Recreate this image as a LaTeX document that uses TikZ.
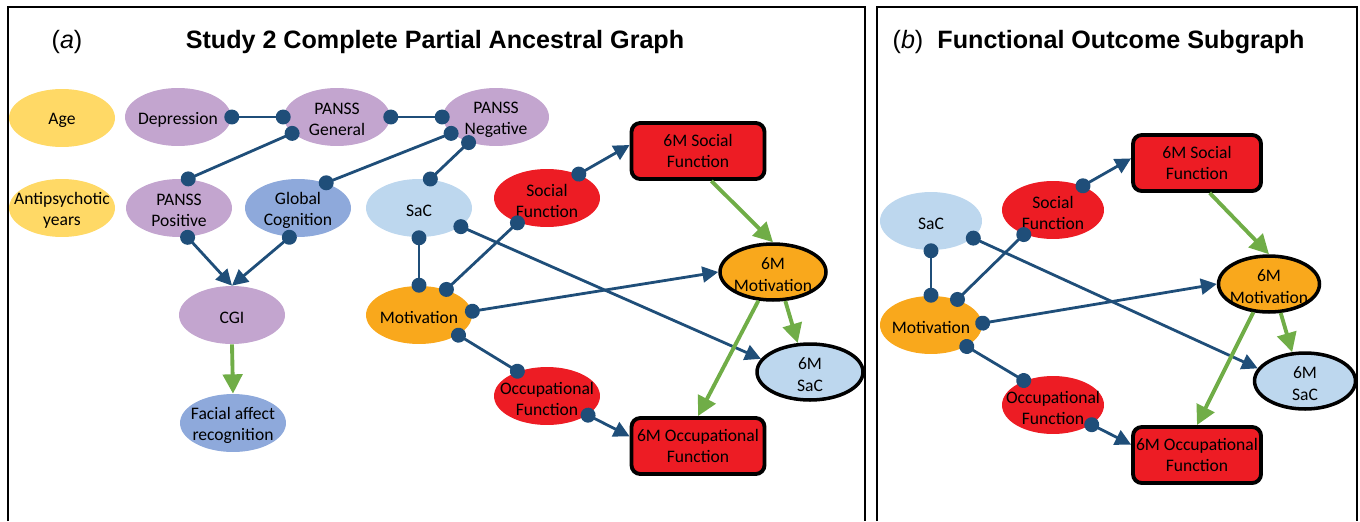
\documentclass[tikz,border=0pt]{standalone}
\usepackage{fontspec}
\setmainfont{Carlito}
\newfontfamily\arialfont{Liberation Sans}
\usetikzlibrary{shapes.geometric,arrows.meta}
\definecolor{ageyel}{RGB}{255,217,102}
\definecolor{lila}{RGB}{195,165,207}
\definecolor{cogblue}{RGB}{142,169,219}
\definecolor{sacblue}{RGB}{189,215,238}
\definecolor{motorange}{RGB}{249,168,28}
\definecolor{funcred}{RGB}{237,28,36}
\definecolor{edgeblue}{RGB}{31,78,121}
\definecolor{arrgreen}{RGB}{112,173,71}
\begin{document}
\begin{tikzpicture}[x=0.02cm,y=-0.02cm,
  ell/.style={ellipse,minimum width=2.12cm,minimum height=1.16cm,inner sep=0pt},
  thickell/.style={ell,draw=black,line width=2pt,minimum width=2.12cm,minimum height=1.12cm},
  box/.style={draw=black,line width=2.2pt,fill=funcred,rounded corners=5pt,minimum width=2.66cm,
    minimum height=1.12cm,inner sep=0pt,align=center,font=\fontsize{10}{12}\selectfont},
  lab/.style={align=center,font=\fontsize{10}{12}\selectfont,inner sep=0pt,yshift=-1.5pt},
  oo/.style={draw=edgeblue,line width=1.6pt,{Circle[length=8.5pt]}-{Circle[length=8.5pt]},
    shorten <=-4pt,shorten >=-4pt},
  oa/.style={draw=edgeblue,line width=1.6pt,{Circle[length=8.5pt]}-{Triangle[length=9pt,width=9pt]},
    shorten <=-4pt},
  ga/.style={draw=arrgreen,line width=2.2pt,-{Triangle[length=11pt,width=11pt]}},
  frame/.style={line width=0.9pt},
  ttl/.style={font=\arialfont\bfseries\fontsize{14.3}{17}\selectfont,inner sep=0pt},
  tag/.style={font=\arialfont\fontsize{14.3}{17}\selectfont,inner sep=0pt}]
\useasboundingbox (0,0) rectangle (1360,521);
\draw[frame] (8,521) -- (8,7) -- (865,7) -- (865,521);
\draw[frame] (877,521) -- (877,7) -- (1357,7) -- (1357,521);

\node[tag] (taga) at (67,42) {(\textit{a})};
\node[ttl] (ttla) at (435,42) {Study 2 Complete Partial Ancestral Graph};
\node[tag] (tagb) at (908,42) {(\textit{b})};
\node[ttl] (ttlb) at (1121,42) {Functional Outcome Subgraph};

\node[ell,fill=ageyel,label={[lab]center:Age}] (age) at (62,118) {};
\node[ell,fill=ageyel,label={[lab]center:Antipsychotic\\years}] (anti) at (62,208) {};
\node[ell,fill=lila,label={[lab]center:Depression}] (dep) at (178,117) {};
\node[ell,fill=lila,label={[lab]center:PANSS\\General}] (pg) at (337,117) {};
\node[ell,fill=lila,label={[lab]center:PANSS\\Negative}] (pn) at (496,117) {};
\node[ell,fill=lila,label={[lab]center:PANSS\\Positive}] (pp) at (179,208) {};
\node[ell,fill=cogblue,label={[lab]center:Global\\Cognition}] (gc) at (298,208) {};
\node[ell,fill=sacblue,label={[lab]center:SaC}] (sac) at (419,208) {};
\node[ell,fill=funcred,label={[lab]center:Social\\Function}] (sf) at (547,198) {};
\node[box] (msf) at (698,151) {6M Social\\Function};
\node[thickell,fill=motorange,label={[lab]center:6M\\Motivation}] (mmot) at (773,272) {};
\node[thickell,fill=sacblue,label={[lab]center:6M\\SaC}] (msac) at (810,372) {};
\node[ell,fill=motorange,label={[lab]center:Motivation}] (mot) at (419,315) {};
\node[ell,fill=funcred,label={[lab]center:Occupational\\Function}] (oc) at (547,396) {};
\node[box] (mof) at (698,446) {6M Occupational\\Function};
\node[ell,fill=lila,label={[lab]center:CGI}] (cgi) at (232,315) {};
\node[ell,fill=cogblue,label={[lab]center:Facial affect\\recognition}] (far) at (233,423) {};

\draw[oo] (dep.east) -- (pg.west);
\draw[oo] (pg.east) -- (pn.west);
\draw[oo] (pg.200) -- (pp.73);
\draw[oo] (pn.200) -- (gc.42);
\draw[oo] (pn.223) -- (sac.69);
\draw[oa] (pp.286) -- (cgi.north);
\draw[oa] (gc.254) -- (cgi.north);
\draw[oo] (sac.south) -- (mot.north);
\draw[oo] (sf.220) -- (mot.43);
\draw[oa] (sf.37) -- (msf.175);
\draw[oa] (sac.336) -- (msac.165);
\draw[oa] (mot.4) -- (mmot.west);
\draw[oo] (mot.333) -- (oc.140);
\draw[oa] (oc.335) -- (mof.172);
\draw[ga] (cgi.south) -- (far.north);
\draw[ga] (msf.294) -- (mmot.north);
\draw[ga] (mmot.293) -- (msac.113);
\draw[ga] (mmot.243) -- (mof.north);

\begin{scope}[ell/.append style={minimum width=2.04cm},box/.append style={minimum width=2.56cm},
  thickell/.append style={minimum width=2.02cm}]
\node[ell,fill=sacblue,label={[lab]center:SaC}] (sac2) at (931,221) {};
\node[ell,fill=funcred,label={[lab]center:Social\\Function}] (sf2) at (1053,210) {};
\node[box] (msf2) at (1197,163) {6M Social\\Function};
\node[thickell,fill=motorange,label={[lab]center:6M\\Motivation}] (mmot2) at (1269,284) {};
\node[ell,fill=motorange,label={[lab]center:Motivation}] (mot2) at (931,325) {};
\node[thickell,fill=sacblue,label={[lab]center:6M\\SaC}] (msac2) at (1305,381) {};
\node[ell,fill=funcred,label={[lab]center:Occupational\\Function}] (oc2) at (1053,405) {};
\node[box] (mof2) at (1197,455) {6M Occupational\\Function};

\draw[oo] (sac2.south) -- (mot2.north);
\draw[oo] (sf2.220) -- (mot2.44);
\draw[oa] (sf2.39) -- (msf2.176);
\draw[oa] (sac2.338) -- (msac2.165);
\draw[oa] (mot2.2) -- (mmot2.west);
\draw[oo] (mot2.329) -- (oc2.140);
\draw[oa] (oc2.333) -- (mof2.171);
\draw[ga] (msf2.293) -- (mmot2.north);
\draw[ga] (mmot2.292) -- (msac2.114);
\draw[ga] (mmot2.241) -- (mof2.north);
\end{scope}
\end{tikzpicture}
\end{document}
